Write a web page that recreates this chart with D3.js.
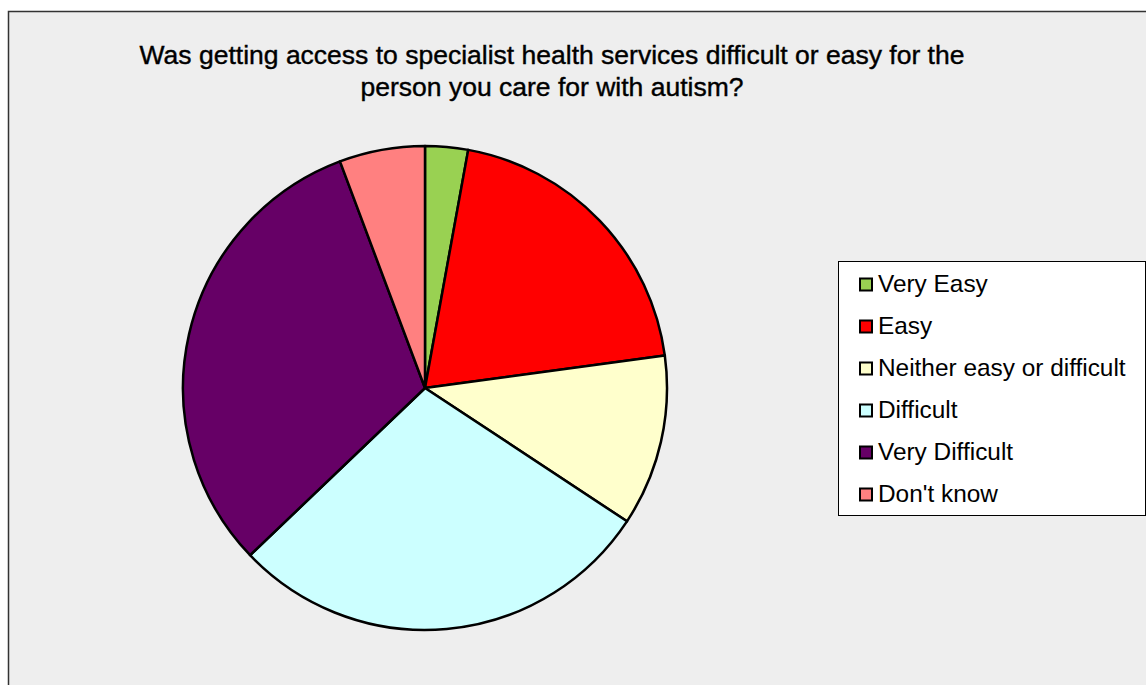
<!DOCTYPE html>
<html>
<head>
<meta charset="utf-8">
<script src="https://cdn.jsdelivr.net/npm/d3@7"></script>
<style>
  html, body { margin: 0; padding: 0; background: #ffffff; }
  svg { display: block; }
</style>
</head>
<body>
<svg id="chart" width="1146" height="685"></svg>
<script>
// Survey responses (counts)
const categories = ["Very Easy", "Easy", "Neither easy or difficult", "Difficult", "Very Difficult", "Don't know"];
const counts = [1, 7, 4, 10, 11, 2];
const colors = ["#99d152", "#ff0000", "#ffffcc", "#ccffff", "#660066", "#ff8080"];
const titleLines = [
  "Was getting access to specialist health services difficult or easy for the",
  "person you care for with autism?"
];

const svg = d3.select("#chart");
const W = 1146, H = 685;
const font = "'Liberation Sans', Arial, sans-serif";

// Chart area panel
svg.append("rect")
  .attr("x", 8.5).attr("y", 11.5)
  .attr("width", W).attr("height", H)
  .attr("fill", "#eeeeee")
  .attr("stroke", "#333333").attr("stroke-width", 1.5);

// Title
const title = svg.append("text")
  .attr("text-anchor", "middle")
  .attr("font-family", font)
  .attr("font-size", 26.5)
  .attr("fill", "#000")
  .attr("stroke", "#000").attr("stroke-width", 0.4);
titleLines.forEach((t, i) => {
  title.append("tspan").attr("x", 552).attr("y", 64 + i * 32).text(t);
});

// Pie
const cx = 425, cy = 388, r = 242;
const color = d3.scaleOrdinal().domain(categories).range(colors);
const pie = d3.pie().sort(null).value(d => d.value);
const arc = d3.arc().innerRadius(0).outerRadius(r);
const data = categories.map((c, i) => ({ name: c, value: counts[i] }));

svg.append("g")
  .attr("transform", `translate(${cx},${cy})`)
  .selectAll("path")
  .data(pie(data))
  .join("path")
  .attr("d", arc)
  .attr("fill", d => color(d.data.name))
  .attr("stroke", "#000")
  .attr("stroke-width", 2.5)
  .attr("stroke-linejoin", "round");

// Legend
const lx = 838.5, ly = 261.5, lw = 307, lh = 254;
svg.append("rect")
  .attr("x", lx).attr("y", ly).attr("width", lw).attr("height", lh)
  .attr("fill", "#ffffff").attr("stroke", "#000").attr("stroke-width", 1);

const rowY = d3.scalePoint().domain(categories).range([284, 494]);
const items = svg.append("g").selectAll("g")
  .data(categories)
  .join("g")
  .attr("transform", d => `translate(0,${rowY(d)})`);

items.append("rect")
  .attr("x", 860).attr("y", -5.5).attr("width", 12).attr("height", 12)
  .attr("fill", d => color(d))
  .attr("stroke", "#000").attr("stroke-width", 2);

items.append("text")
  .attr("x", 878).attr("y", 8)
  .attr("font-family", font)
  .attr("font-size", 24.4)
  .attr("fill", "#000")
  .text(d => d);
</script>
</body>
</html>
